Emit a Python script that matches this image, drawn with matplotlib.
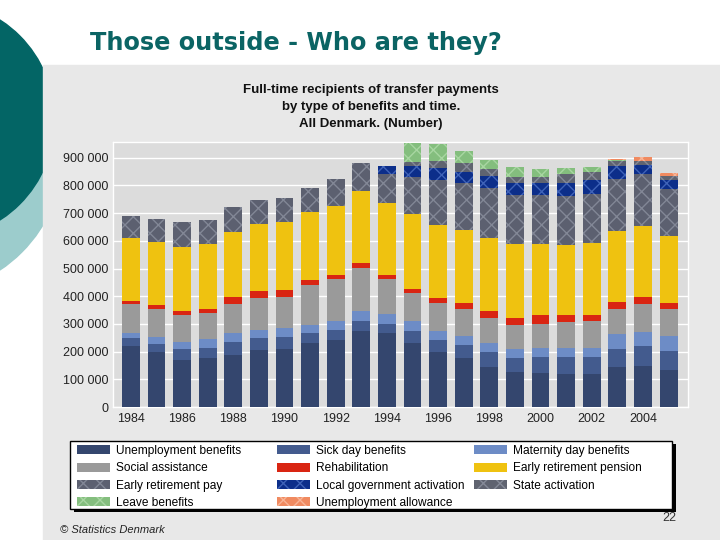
import matplotlib

matplotlib.use("Agg")
import matplotlib.pyplot as plt
import matplotlib.ticker as mticker
from matplotlib.patches import Rectangle, Circle
import numpy as np

plt.rcParams["font.family"] = ["Liberation Sans", "DejaVu Sans"]
plt.rcParams["hatch.linewidth"] = 1.0

W, H = 720, 540

YEARS = list(range(1984, 2006))

# values in thousands of full-time recipients
UNEMPLOYMENT = [219, 199, 169, 176, 187, 205, 208, 231, 242, 275, 267, 231, 199, 177, 143, 125, 122, 118, 118, 143, 147, 133]
SICK_DAY = [29, 29, 39, 36, 47, 43, 44, 36, 36, 36, 33, 44, 43, 46, 56, 51, 58, 62, 62, 65, 72, 68]
MATERNITY = [18, 24, 26, 33, 32, 29, 32, 28, 33, 35, 36, 36, 33, 32, 31, 32, 32, 32, 32, 55, 51, 54]
SOCIAL = [106, 101, 97, 94, 106, 117, 114, 145, 150, 156, 127, 101, 101, 98, 90, 87, 87, 94, 98, 90, 102, 98]
REHAB = [10, 16, 15, 15, 26, 24, 24, 18, 16, 18, 14, 14, 18, 22, 26, 25, 32, 25, 21, 25, 26, 22]
EARLY_PENSION = [229, 226, 232, 234, 235, 242, 245, 247, 249, 261, 260, 270, 263, 264, 265, 268, 257, 253, 262, 257, 255, 242]
EARLY_PAY = [78, 83, 89, 87, 89, 87, 87, 85, 97, 100, 105, 135, 163, 169, 181, 178, 178, 179, 177, 189, 189, 171]
LOCAL_ACT = [0, 0, 0, 0, 0, 0, 0, 0, 0, 0, 28, 39, 44, 41, 43, 44, 44, 47, 50, 47, 33, 32]
STATE_ACT = [0, 0, 0, 0, 0, 0, 0, 0, 0, 0, 0, 14, 24, 32, 24, 21, 21, 32, 28, 18, 14, 13]
LEAVE = [0, 0, 0, 0, 0, 0, 0, 0, 0, 0, 0, 71, 61, 43, 33, 35, 28, 21, 18, 2, 0, 0]
UNEMP_ALLOW = [0, 0, 0, 0, 0, 0, 0, 0, 0, 0, 0, 0, 0, 0, 0, 0, 0, 0, 0, 4, 14, 13]

SERIES = [
    ("Unemployment benefits", UNEMPLOYMENT, "#34466e", None, None),
    ("Sick day benefits", SICK_DAY, "#435b8e", None, None),
    ("Maternity day benefits", MATERNITY, "#6d8cc6", None, None),
    ("Social assistance", SOCIAL, "#9a9a9a", None, None),
    ("Rehabilitation", REHAB, "#d92512", None, None),
    ("Early retirement pension", EARLY_PENSION, "#efc210", None, None),
    ("Early retirement pay", EARLY_PAY, "#5c6070", "#828796", "xx"),
    ("Local government activation", LOCAL_ACT, "#0c2e8a", "#3f63b8", "xx"),
    ("State activation", STATE_ACT, "#5f6370", "#858a98", "xx"),
    ("Leave benefits", LEAVE, "#84be7e", "#a8d6a2", "xx"),
    ("Unemployment allowance", UNEMP_ALLOW, "#f08a60", "#f8b496", "xx"),
]

TEAL = "#0b6464"


def fx(x):
    return x / W


def fy(y):
    return 1 - y / H


fig = plt.figure(figsize=(7.2, 5.4), dpi=100)
fig.patch.set_facecolor("white")

# slide decoration
fig.add_artist(Circle((-0.805, 3.9), 1.445, transform=fig.dpi_scale_trans,
                      color="#9ccccc", zorder=0))
fig.add_artist(Circle((-0.645, 4.2), 1.19, transform=fig.dpi_scale_trans,
                      color="#036565", zorder=1))
fig.add_artist(Rectangle((fx(43), 0), 1 - fx(43), fy(65), transform=fig.transFigure,
                         color="#e8e8e8", zorder=2))

fig.text(fx(90), fy(43), "Those outside - Who are they?", family="DejaVu Sans",
         fontsize=17.3, fontweight="bold", color=TEAL, va="center", ha="left")

for yy, line in zip([90, 107, 124], ["Full-time recipients of transfer payments",
                                     "by type of benefits and time.",
                                     "All Denmark. (Number)"]):
    fig.text(fx(371), fy(yy), line, fontsize=9.5, fontweight="bold",
             ha="center", va="center", color="#111111", zorder=3)

ax = fig.add_axes([fx(113), fy(407), fx(688) - fx(113), fy(142) - fy(407)])
ax.set_zorder(3)
ax.set_facecolor("#dcdcdc")

x = np.array(YEARS)
bottom = np.zeros(len(YEARS))
handles = []
for name, vals, face, hatchcol, hatch in SERIES:
    v = np.array(vals) * 1000.0
    b = ax.bar(x, v, width=0.7, bottom=bottom, color=face,
               edgecolor=hatchcol if hatchcol else face, linewidth=0,
               hatch=hatch, label=name, zorder=3)
    handles.append(b)
    bottom += v

ax.set_xlim(1983.3, 2005.76)
ax.set_ylim(0, 957000)
ax.set_yticks(np.arange(0, 900001, 100000))
ax.yaxis.set_major_formatter(mticker.FuncFormatter(lambda v, _: f"{int(v):,}".replace(",", " ")))
ax.set_xticks(YEARS[::2])
ax.tick_params(length=0, labelsize=9, colors="#222222")
ax.tick_params(axis="y", pad=3)
ax.tick_params(axis="x", pad=4)
ax.grid(axis="y", color="white", linewidth=1.0, zorder=0)
ax.set_axisbelow(True)
for s in ax.spines.values():
    s.set_color("white")
    s.set_linewidth(1.0)

# legend box with drop shadow, three fixed columns
fig.add_artist(Rectangle((fx(74), fy(512)), fx(676) - fx(74), fy(444) - fy(512),
                         transform=fig.transFigure, facecolor="black",
                         edgecolor="none", zorder=3.4))
fig.add_artist(Rectangle((fx(70), fy(509)), fx(672) - fx(70), fy(441) - fy(509),
                         transform=fig.transFigure, facecolor="white",
                         edgecolor="black", linewidth=1.0, zorder=3.5))

columns = [[0, 3, 6, 9], [1, 4, 7, 10], [2, 5, 8]]
col_x = [77, 277, 474]
for idx, cx in zip(columns, col_x):
    lg = fig.legend([handles[i] for i in idx], [SERIES[i][0] for i in idx],
                    loc="upper left", bbox_to_anchor=(fx(cx), fy(445)),
                    fontsize=8.6, frameon=False, borderaxespad=0, borderpad=0,
                    handlelength=2.76, handleheight=0.78, handletextpad=0.5,
                    labelspacing=0.44)
    lg.set_zorder(4)

fig.text(fx(60), fy(530), "© Statistics Denmark", fontsize=8, style="italic",
         ha="left", va="center", color="#222222", zorder=3)
fig.text(fx(669), fy(518), "22", fontsize=9, ha="center", va="center",
         color="#333333", zorder=3)

fig.savefig("out.png", dpi=100, facecolor="white")
